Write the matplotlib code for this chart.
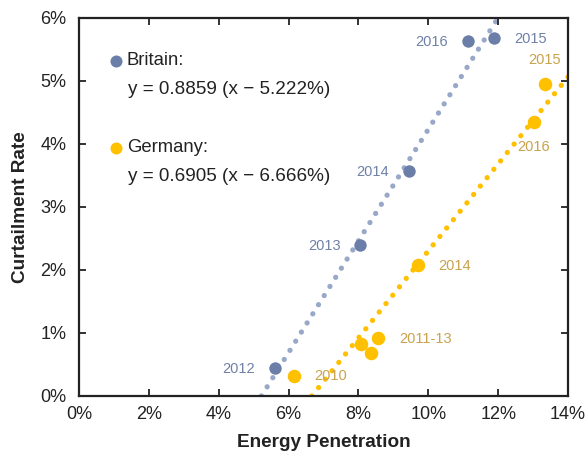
import numpy as np
import matplotlib
import matplotlib.pyplot as plt
from matplotlib.ticker import FuncFormatter

matplotlib.use('Agg')
plt.rcParams['font.family'] = ['Liberation Sans', 'DejaVu Sans']

# data (percent)
britain_x = [5.61, 8.05, 9.45, 11.13, 11.87]
britain_y = [0.44, 2.39, 3.57, 5.63, 5.68]

germany_x = [6.16, 8.06, 8.37, 8.57, 9.72, 13.02, 13.33]
germany_y = [0.32, 0.83, 0.69, 0.92, 2.08, 4.35, 4.95]

# label text and positions (data coords)
britain_labels = ['2012', '2013', '2014', '2016', '2015']
britain_label_x = [4.58, 7.04, 8.41, 10.1, 12.93]
britain_label_y = [0.43, 2.38, 3.56, 5.62, 5.67]

germany_labels = ['2010', '2011-13', '2014', '2016', '2015']
germany_label_x = [7.21, 9.93, 10.76, 13.02, 13.34]
germany_label_y = [0.32, 0.90, 2.07, 3.96, 5.33]

# trend lines: y = slope * (x - x0)
britain_fit = (0.8859, 5.222)
germany_fit = (0.6905, 6.666)

blue = '#6a7ea8'
blue_line = '#98a8c8'
blue_text = '#6f80a8'
gold = '#ffc000'
gold_text = '#c8a24c'
dark = '#222222'

fig = plt.figure(figsize=(5.87, 4.58), dpi=100)
ax = fig.add_axes([0.1346, 0.1354, 0.8330, 0.8253])

dot_style = dict(linewidth=3.8, linestyle=(0, (0.01, 2.03)),
                 dash_capstyle='round', solid_capstyle='round')

# Britain trend
slope, x0 = britain_fit
bx = np.array([x0, x0 + 6 / slope])
ax.plot(bx, slope * (bx - x0), color=blue_line, **dot_style, zorder=1)

# Germany trend
slope, x0 = germany_fit
gx = np.array([x0, 14])
ax.plot(gx, slope * (gx - x0), color=gold, **dot_style, zorder=1)

ax.scatter(britain_x, britain_y, s=80, color=blue, zorder=3, linewidths=0)
ax.scatter(germany_x, germany_y, s=95, color=gold, zorder=3, linewidths=0)

for t, x, y in zip(britain_labels, britain_label_x, britain_label_y):
    ax.text(x, y, t, color=blue_text, fontsize=10.5, ha='center', va='center')
for t, x, y in zip(germany_labels, germany_label_x, germany_label_y):
    ax.text(x, y, t, color=gold_text, fontsize=10.5, ha='center', va='center')

# legend-like annotations
ax.scatter([1.06], [5.32], s=75, color=blue, linewidths=0, zorder=3)
ax.text(1.37, 5.32, 'Britain:', fontsize=13.3, va='center', ha='left', color=dark)
ax.text(1.40, 4.87, 'y = 0.8859 (x \u2212 5.222%)', fontsize=13.6, va='center',
        ha='left', color=dark)
ax.scatter([1.06], [3.94], s=75, color=gold, linewidths=0, zorder=3)
ax.text(1.37, 3.94, 'Germany:', fontsize=13.3, va='center', ha='left', color=dark)
ax.text(1.40, 3.48, 'y = 0.6905 (x \u2212 6.666%)', fontsize=13.6, va='center',
        ha='left', color=dark)

ax.set_xlim(0, 14)
ax.set_ylim(0, 6)
ax.set_xticks(np.arange(0, 15, 2))
ax.set_yticks(np.arange(0, 7, 1))
pct = FuncFormatter(lambda v, p: f'{v:.0f}%')
ax.xaxis.set_major_formatter(pct)
ax.yaxis.set_major_formatter(pct)

for s in ax.spines.values():
    s.set_linewidth(1.6)
    s.set_color(dark)
ax.tick_params(direction='in', length=5, width=1.3, top=True, right=True,
               labelsize=13, colors=dark, pad=7)
ax.tick_params(axis='y', pad=9)

ax.set_xlabel('Energy Penetration', fontsize=13.7, fontweight='bold', labelpad=8,
              color=dark)
ax.set_ylabel('Curtailment Rate', fontsize=13.7, fontweight='bold', labelpad=8,
              color=dark)

fig.savefig('out.png', dpi=100)
